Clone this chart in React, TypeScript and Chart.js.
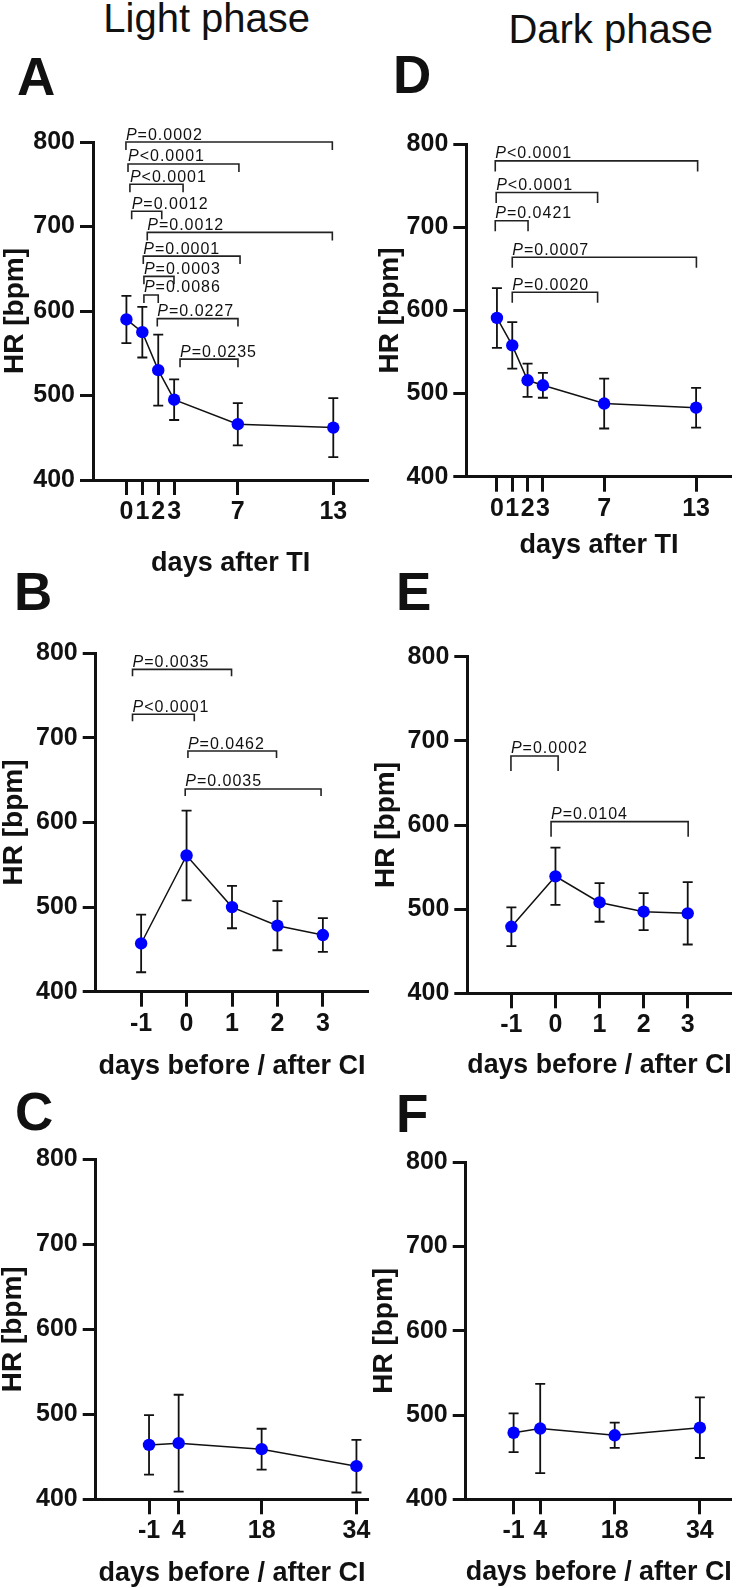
import React, { useEffect, useRef } from 'react';
import { Chart, registerables } from 'chart.js';
Chart.register(...registerables);

const FONT = '"Liberation Sans", Arial, Helvetica, sans-serif';

// ---------- data ----------
const yTickValues = [400, 500, 600, 700, 800];

const daysTI = [0, 1, 2, 3, 7, 13];
const hrLightTI = [590, 575, 530, 495, 466, 462];
const sdLightTI = [28, 30, 42, 24, 25, 35];
const hrDarkTI = [591, 558, 516, 510, 488, 483];
const sdDarkTI = [36, 28, 20, 15, 30, 24];

const daysCI = [-1, 0, 1, 2, 3];
const hrLightCI = [457, 561, 500, 478, 467];
const sdLightCI = [34, 53, 25, 29, 20];
const hrDarkCI = [479, 539, 508, 497, 495];
const sdDarkCI = [23, 34, 23, 22, 37];

const daysCILong = [-1, 4, 18, 34];
const hrLightCILong = [464, 466, 459, 439];
const sdLightCILong = [35, 57, 24, 31];
const hrDarkCILong = [479, 484, 476, 485];
const sdDarkCILong = [23, 53, 15, 36];

// significance brackets
const brAText = ['=0.0002', '<0.0001', '<0.0001', '=0.0012', '=0.0012', '=0.0001', '=0.0003', '=0.0086', '=0.0227', '=0.0235'];
const brAFrom = [-0.03, 0.1, 0.22, 0.33, 1.31, 1.06, 1.1, 1.1, 1.94, 3.37];
const brATo = [12.94, 7.07, 3.56, 2.22, 12.94, 7.14, 2.99, 2.0, 7.01, 7.01];
const brAY = [800, 774, 750, 718, 693, 665, 641, 619, 591, 543];

const brDText = ['<0.0001', '<0.0001', '=0.0421', '=0.0007', '=0.0020'];
const brDFrom = [-0.11, -0.05, -0.11, 1.0, 1.0];
const brDTo = [13.1, 6.57, 2.03, 13.02, 6.57];
const brDY = [780, 742, 708, 664, 622];

const brBText = ['=0.0035', '<0.0001', '=0.0462', '=0.0035'];
const brBFrom = [-1.19, -1.19, 0.03, -0.03];
const brBTo = [0.99, 0.17, 1.98, 2.96];
const brBY = [781, 728, 684.5, 639.6];

const brEText = ['=0.0002', '=0.0104'];
const brEFrom = [-1.01, -0.1];
const brETo = [0.06, 3.01];
const brEY = [682, 604];

const none: any[] = [];

// ---------- layout ----------
const PANELS = [
  {
    id: 'A', days: daysTI, hr: hrLightTI, sd: sdLightTI, xMin: -2.1, xMax: 15.2, xTitle: 'days after TI',
    brText: brAText, brFrom: brAFrom, brTo: brATo, brY: brAY, drop: 8,
    canvas: { x: 0, y: 100, w: 375, h: 477 }, area: { l: 93, r: 368.3, t: 142, b: 480 }, xTitleMid: 563.3, yTitleMid: 15,
  },
  {
    id: 'D', days: daysTI, hr: hrDarkTI, sd: sdDarkTI, xMin: -2, xMax: 15.33, xTitle: 'days after TI',
    brText: brDText, brFrom: brDFrom, brTo: brDTo, brY: brDY, drop: 10.5,
    canvas: { x: 369, y: 120, w: 369, h: 439 }, area: { l: 466.3, r: 736, t: 144.3, b: 476.7 }, xTitleMid: 545.3, yTitleMid: 389.8,
  },
  {
    id: 'B', days: daysCI, hr: hrLightCI, sd: sdLightCI, xMin: -2, xMax: 4, xTitle: 'days before / after CI',
    brText: brBText, brFrom: brBFrom, brTo: brBTo, brY: brBY, drop: 7,
    canvas: { x: 0, y: 620, w: 375, h: 461 }, area: { l: 95.7, r: 368.3, t: 653.3, b: 991.7 }, xTitleMid: 1066.6, yTitleMid: 14,
  },
  {
    id: 'E', days: daysCI, hr: hrDarkCI, sd: sdDarkCI, xMin: -2, xMax: 4, xTitle: 'days before / after CI',
    brText: brEText, brFrom: brEFrom, brTo: brETo, brY: brEY, drop: 15,
    canvas: { x: 369, y: 620, w: 369, h: 460 }, area: { l: 467.3, r: 736, t: 656.7, b: 993.3 }, xTitleMid: 1065.6, yTitleMid: 386.5,
  },
  {
    id: 'C', days: daysCILong, hr: hrLightCILong, sd: sdLightCILong, xMin: -10, xMax: 36, xTitle: 'days before / after CI',
    brText: none, brFrom: none, brTo: none, brY: none, drop: 8,
    canvas: { x: 0, y: 1120, w: 375, h: 468 }, area: { l: 95.7, r: 368.3, t: 1159.3, b: 1499.3 }, xTitleMid: 1573.9, yTitleMid: 13.3,
  },
  {
    id: 'F', days: daysCILong, hr: hrDarkCILong, sd: sdDarkCILong, xMin: -10, xMax: 40, xTitle: 'days before / after CI',
    brText: none, brFrom: none, brTo: none, brY: none, drop: 8,
    canvas: { x: 369, y: 1120, w: 369, h: 468 }, area: { l: 465.7, r: 736, t: 1162.3, b: 1499.3 }, xTitleMid: 1572.3, yTitleMid: 384,
  },
];

const LETTERS = [
  { t: 'A', x: 17, base: 95 },
  { t: 'D', x: 393, base: 92.7 },
  { t: 'B', x: 14, base: 610 },
  { t: 'E', x: 396, base: 610 },
  { t: 'C', x: 15, base: 1130 },
  { t: 'F', x: 396, base: 1131.7 },
];

// ---------- plugins ----------
const errorBarPlugin = {
  id: 'errbars',
  beforeDatasetsDraw(chart: any, _a: any, opts: any) {
    const { ctx } = chart;
    const x = chart.scales.x, y = chart.scales.y;
    ctx.save();
    ctx.strokeStyle = '#111';
    ctx.lineWidth = 1.8;
    opts.xs.forEach((d: number, i: number) => {
      const px = x.getPixelForValue(d);
      const top = y.getPixelForValue(opts.means[i] + opts.sds[i]);
      const bot = y.getPixelForValue(opts.means[i] - opts.sds[i]);
      ctx.beginPath();
      ctx.moveTo(px, top); ctx.lineTo(px, bot);
      ctx.moveTo(px - 5, top); ctx.lineTo(px + 5, top);
      ctx.moveTo(px - 5, bot); ctx.lineTo(px + 5, bot);
      ctx.stroke();
    });
    ctx.restore();
  },
};

const bracketPlugin = {
  id: 'brackets',
  afterDraw(chart: any, _a: any, opts: any) {
    const { ctx } = chart;
    const x = chart.scales.x, y = chart.scales.y;
    ctx.save();
    ctx.strokeStyle = '#222';
    ctx.fillStyle = '#111';
    ctx.lineWidth = 1.6;
    ctx.textBaseline = 'alphabetic';
    ctx.textAlign = 'left';
    const spacing = 1.0;
    opts.text.forEach((t: string, i: number) => {
      const x1 = x.getPixelForValue(opts.from[i]);
      const x2 = x.getPixelForValue(opts.to[i]);
      const py = y.getPixelForValue(opts.ys[i]);
      ctx.beginPath();
      ctx.moveTo(x1, py + opts.drop);
      ctx.lineTo(x1, py);
      ctx.lineTo(x2, py);
      ctx.lineTo(x2, py + opts.drop);
      ctx.stroke();
      let cx = x1;
      const by = py - 2.5;
      ctx.font = `italic 16px ${FONT}`;
      ctx.fillText('P', cx, by);
      cx += ctx.measureText('P').width + spacing;
      ctx.font = `16px ${FONT}`;
      for (const ch of t) {
        ctx.fillText(ch, cx, by);
        cx += ctx.measureText(ch).width + spacing;
      }
    });
    ctx.restore();
  },
};

function Panel({ p }: { p: any }) {
  const ref = useRef<HTMLCanvasElement | null>(null);
  useEffect(() => {
    if (!ref.current) return;
    const c = p.canvas, a = p.area;
    const padTop = a.t - c.y;
    const padRight = c.x + c.w - a.r;
    const yWidth = a.l - c.x;
    const xHeight = c.y + c.h - a.b;
    const xTitlePadBottom = c.y + c.h - 13.5 - p.xTitleMid;
    const yTitlePadTop = p.yTitleMid - c.x - 14;
    const chart = new Chart(ref.current, {
      type: 'line',
      data: {
        datasets: [
          {
            data: p.days.map((d: number, i: number) => ({ x: d, y: p.hr[i] })),
            borderColor: '#111',
            borderWidth: 1.5,
            pointRadius: 6.2,
            pointBackgroundColor: '#0000ff',
            pointBorderColor: '#0000ff',
            pointBorderWidth: 0,
            tension: 0,
            clip: false as any,
          },
        ],
      },
      options: {
        responsive: false,
        animation: false,
        devicePixelRatio: 1,
        events: [],
        layout: { padding: { top: padTop, right: padRight, left: 0, bottom: 0 } },
        plugins: {
          legend: { display: false },
          tooltip: { enabled: false },
          errbars: { xs: p.days, means: p.hr, sds: p.sd },
          brackets: { text: p.brText, from: p.brFrom, to: p.brTo, ys: p.brY, drop: p.drop },
        } as any,
        scales: {
          x: {
            type: 'linear',
            min: p.xMin,
            max: p.xMax,
            afterBuildTicks: (s: any) => { s.ticks = p.days.map((v: number) => ({ value: v })); },
            afterFit: (s: any) => { s.height = xHeight; },
            ticks: {
              autoSkip: false,
              maxRotation: 0,
              minRotation: 0,
              padding: 2,
              color: '#111',
              font: { family: FONT, size: 25, weight: 'bold', lineHeight: 1.2 },
              callback: (v: any) => String(v),
            },
            grid: { display: true, drawOnChartArea: false, drawTicks: true, tickLength: 15, tickWidth: 3, tickColor: '#111' },
            border: { display: true, width: 3, color: '#111' },
            title: {
              display: true,
              text: p.xTitle,
              color: '#111',
              font: { family: FONT, size: 27, weight: 'bold', lineHeight: 1 },
              padding: { top: 0, bottom: xTitlePadBottom },
            },
          },
          y: {
            type: 'linear',
            min: 400,
            max: 800,
            afterBuildTicks: (s: any) => { s.ticks = yTickValues.map((v) => ({ value: v })); },
            afterFit: (s: any) => { s.width = yWidth; },
            ticks: {
              padding: 5,
              color: '#111',
              font: { family: FONT, size: 25, weight: 'bold', lineHeight: 1.2 },
              callback: (v: any) => String(v),
            },
            grid: { display: true, drawOnChartArea: false, drawTicks: true, tickLength: 13, tickWidth: 3, tickColor: '#111' },
            border: { display: true, width: 3, color: '#111' },
            title: {
              display: true,
              text: 'HR [bpm]',
              color: '#111',
              font: { family: FONT, size: 28, weight: 'bold', lineHeight: 1 },
              padding: { top: yTitlePadTop, bottom: 0 },
            },
          },
        },
      },
      plugins: [errorBarPlugin, bracketPlugin],
    } as any);
    return () => chart.destroy();
  }, [p]);
  return (
    <canvas
      ref={ref}
      width={p.canvas.w}
      height={p.canvas.h}
      style={{ position: 'absolute', left: p.canvas.x, top: p.canvas.y, width: p.canvas.w, height: p.canvas.h }}
    />
  );
}

export default function App() {
  return (
    <div
      style={{
        position: 'absolute', left: 0, top: 0, width: 738, height: 1588,
        background: '#fff', overflow: 'hidden', fontFamily: FONT, color: '#111',
      }}
    >
      <div style={{ position: 'absolute', left: 206.7 - 150, width: 300, top: 31.7 - 33.9, textAlign: 'center', fontSize: 40, lineHeight: '40px', whiteSpace: 'nowrap' }}>
        Light phase
      </div>
      <div style={{ position: 'absolute', left: 610.7 - 150, width: 300, top: 42.7 - 33.9, textAlign: 'center', fontSize: 40, lineHeight: '40px', whiteSpace: 'nowrap' }}>
        Dark phase
      </div>
      {LETTERS.map((l) => (
        <div
          key={l.t}
          style={{ position: 'absolute', left: l.x, top: l.base - 0.8465 * 53, fontSize: 53, lineHeight: '53px', fontWeight: 'bold' }}
        >
          {l.t}
        </div>
      ))}
      {PANELS.map((p) => (
        <Panel key={p.id} p={p} />
      ))}
    </div>
  );
}
